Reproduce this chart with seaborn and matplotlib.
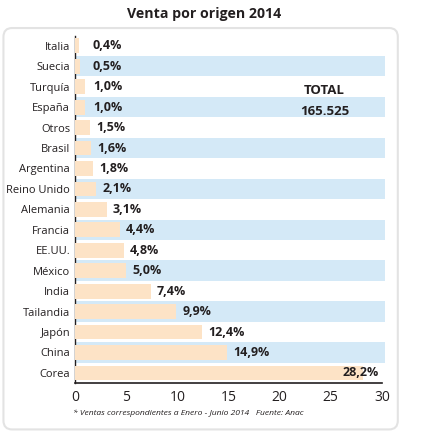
import numpy as np
import pandas as pd
import matplotlib.pyplot as plt
import seaborn as sns
from matplotlib.patches import FancyBboxPatch

# data
paises = ['Italia', 'Suecia', 'Turquía', 'España', 'Otros', 'Brasil', 'Argentina',
          'Reino Unido', 'Alemania', 'Francia', 'EE.UU.', 'México', 'India',
          'Tailandia', 'Japón', 'China', 'Corea']
porcentajes = [0.4, 0.5, 1.0, 1.0, 1.5, 1.6, 1.8, 2.1, 3.1, 4.4, 4.8, 5.0, 7.4,
               9.9, 12.4, 14.9, 28.2]
etiquetas = ['0,4%', '0,5%', '1,0%', '1,0%', '1,5%', '1,6%', '1,8%', '2,1%', '3,1%',
             '4,4%', '4,8%', '5,0%', '7,4%', '9,9%', '12,4%', '14,9%', '28,2%']
xticks = [0, 5, 10, 15, 20, 25, 30]

df = pd.DataFrame({'pais': paises, 'pct': porcentajes})

sns.set_style('white')
plt.rcParams['font.family'] = ['Open Sans', 'DejaVu Sans']

peach = '#fde3c6'
band = '#d4e9f7'
dark = '#231f20'

fig = plt.figure(figsize=(4.31, 4.45), dpi=100)

# rounded frame around the chart
frame = FancyBboxPatch((0.008, 0.035), 0.915, 0.902, boxstyle='round,pad=0,rounding_size=0.02',
                       transform=fig.transFigure, facecolor='white', edgecolor='#e3e3e3',
                       linewidth=1.5, zorder=-5)
fig.patches.append(frame)

ax = fig.add_axes([0.174, 0.139, 0.712, 0.781])
ax.set_facecolor('none')

# alternating light blue row bands
for i in range(1, len(paises), 2):
    ax.axhspan(i - 0.5, i + 0.5, xmin=0, xmax=1.01, color=band, lw=0, zorder=0, clip_on=False)

sns.barplot(data=df, x='pct', y='pais', color=peach, width=0.72, orient='h',
            saturation=1, linewidth=0, ax=ax, zorder=2)

for i, (v, t) in enumerate(zip(porcentajes, etiquetas)):
    if v > 25:
        ax.text(29.7, i, t, ha='right', va='center', fontsize=9, fontweight='bold', color=dark, zorder=3)
    else:
        ax.text(max(v + 0.6, 1.75), i, t, ha='left', va='center', fontsize=9,
                fontweight='bold', color=dark, zorder=3)

ax.text(24.4, 2.2, 'TOTAL', ha='center', va='center', fontsize=9.5, fontweight='bold', color=dark)
ax.text(24.4, 3.2, '165.525', ha='center', va='center', fontsize=9.5, fontweight='bold', color=dark)

ax.set_xlim(0, 30)
ax.set_ylim(len(paises) - 0.5, -0.5)
ax.set_xticks(xticks)
ax.set_xlabel('')
ax.set_ylabel('')
ax.tick_params(axis='x', direction='in', length=4, width=1, color=dark, labelsize=10, pad=5, labelcolor=dark)
ax.tick_params(axis='y', length=0, labelsize=8, pad=3.5, labelcolor=dark)

for s in ['top', 'right']:
    ax.spines[s].set_visible(False)
ax.spines['left'].set_color(dark)
ax.spines['left'].set_linewidth(1)
ax.spines['left'].set_zorder(1)
ax.spines['bottom'].set_color(dark)
ax.spines['bottom'].set_linewidth(1.2)

fig.text(0.473, 0.968, 'Venta por origen 2014', ha='center', va='center',
         fontsize=10.2, fontweight='bold', color=dark)
fig.text(0.17, 0.071, '* Ventas correspondientes a Enero - Junio 2014   Fuente: Anac',
         ha='left', va='center', fontsize=6.1, style='italic', color=dark,
         family=['Liberation Sans Narrow', 'Open Sans'])

fig.savefig('out.png', dpi=100)
